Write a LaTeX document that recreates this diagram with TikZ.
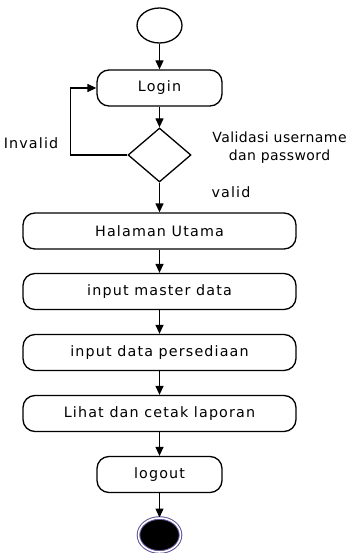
\documentclass[tikz,border=0pt]{standalone}
\usepackage{fontspec}
\setmainfont{DejaVu Sans}[LetterSpace=8]
\usepackage{tikz}
\usetikzlibrary{shapes.geometric}
\usetikzlibrary{positioning}
\usetikzlibrary{arrows.meta}
\usepackage{xcolor}
\definecolor{endring}{RGB}{96,80,150}

\begin{document}
\begin{tikzpicture}[
        anode/.style={rectangle, draw, rounded corners=12pt, line width=1.3pt, minimum height=36pt, inner sep=0pt},
        snode/.style={ellipse, draw, line width=1.3pt, minimum width=45pt, minimum height=35pt, inner sep=0pt},
        dnode/.style={diamond, draw, line width=1.3pt, aspect=1.17, minimum width=63pt, minimum height=54pt, inner sep=0pt},
        enode/.style={ellipse, draw=endring, double=white, double distance=1.6pt, line width=1pt, fill=black, minimum width=42pt, minimum height=34pt, inner sep=0pt},
        lbl/.style={align=center, inner sep=0pt},
        ->,>={Triangle[length=9pt,width=8pt]}, line width=1.3pt,
        font=\fontsize{14.3}{18}\selectfont
    ]
        \useasboundingbox (0,0) rectangle (353pt,-553pt);

        \node[snode] (S) at (159.5pt,-25.5pt) {};
        \node[anode, minimum width=125pt] (A) [below of=S, node distance=62.5pt] {Login};
        \node[dnode] (B) [below of=A, node distance=67pt] {};
        \node[anode, minimum width=273pt] (C) [below of=B, node distance=76pt] {Halaman Utama};
        \node[anode, minimum width=273pt] (D) [below of=C, node distance=60.5pt] {input master data};
        \node[anode, minimum width=273pt] (E) [below of=D, node distance=61pt] {input data persediaan};
        \node[anode, minimum width=273pt] (F) [below of=E, node distance=61pt] {Lihat dan cetak laporan};
        \node[anode, minimum width=125pt] (G) [below of=F, node distance=61pt] {logout};
        \node[enode] (H) [below of=G, node distance=60.5pt] {};

        \node[lbl] (inv) at (31pt,-143pt) {Invalid};
        \node[lbl, font=\fontsize{14}{18}\selectfont\addfontfeature{LetterSpace=3}] (val) at (279.5pt,-148pt) {Validasi username\\dan password};
        \node[lbl] (ok) at (231pt,-192pt) {valid};

        \draw (S) -- (A);
        \draw (A) -- (B);
        \draw (B.west) -- ++(-57pt,0) |- (A.west);
        \draw (B) -- (C);
        \draw (C) -- (D);
        \draw (D) -- (E);
        \draw (E) -- (F);
        \draw (F) -- (G);
        \draw (G) -- (H);
    \end{tikzpicture}
\end{document}
